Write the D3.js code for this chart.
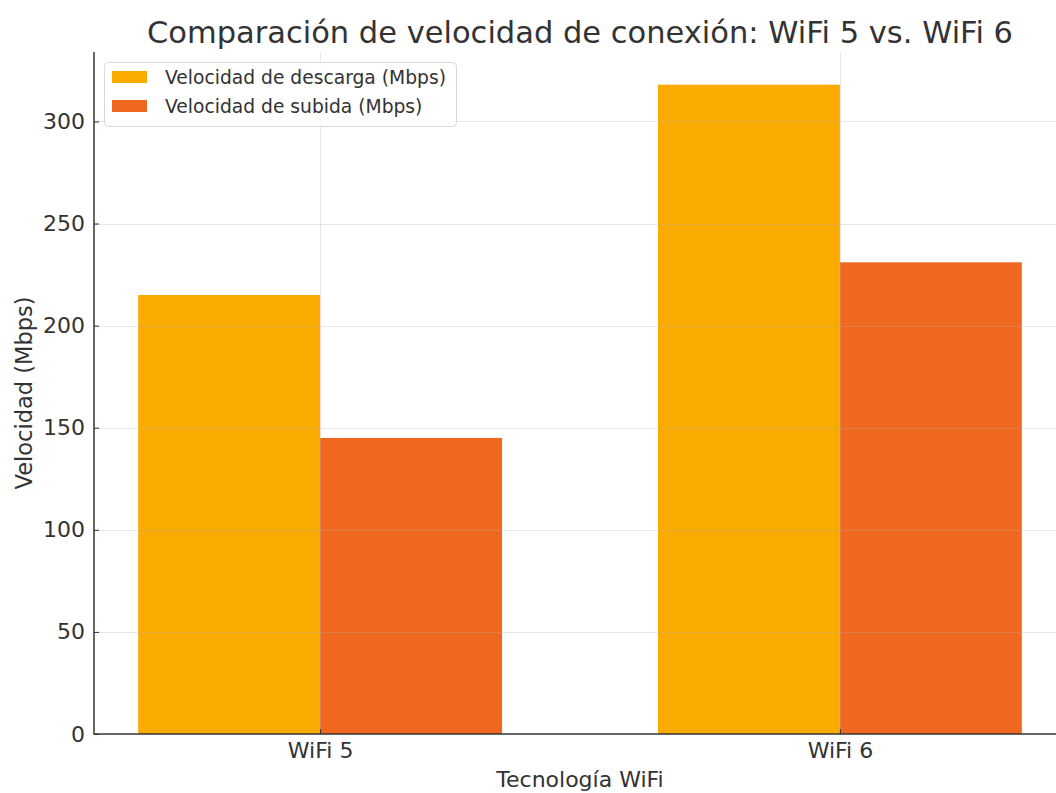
<!DOCTYPE html>
<html>
<head>
<meta charset="utf-8">
<script src="https://cdn.jsdelivr.net/npm/d3@7"></script>
<style>
  html, body { margin: 0; padding: 0; background: #fff; }
  svg { display: block; font-family: "DejaVu Sans", sans-serif; }
</style>
</head>
<body>
<svg id="chart" width="1056" height="793"></svg>
<script>
const categories = ["WiFi 5", "WiFi 6"];
const seriesNames = ["Velocidad de descarga (Mbps)", "Velocidad de subida (Mbps)"];
const downloadValues = [215, 318];
const uploadValues = [145, 231];
const yTicks = [0, 50, 100, 150, 200, 250, 300];
const colors = ["#FBAB00", "#F0671F"];

(function () {
const svg = d3.select("#chart");
const mLeft = 94, mRight = 1066, mTop = 52, mBottom = 734;
const barW = 0.35;

const x = d3.scaleLinear().domain([-0.435, 1.435]).range([mLeft, mRight]);
const y = d3.scaleLinear().domain([0, 334]).range([mBottom, mTop]);

const series = [downloadValues, uploadValues];

// bars
series.forEach((vals, si) => {
  svg.append("g").selectAll("rect")
    .data(vals)
    .join("rect")
    .attr("x", (d, i) => x(i + (si === 0 ? -barW : 0)))
    .attr("width", (d, i) => x(i + barW) - x(i))
    .attr("y", d => y(d))
    .attr("height", d => y(0) - y(d))
    .attr("fill", colors[si]);
});

// grid (drawn over bars, faint)
const grid = svg.append("g").attr("stroke", "#b0b0b0").attr("stroke-opacity", 0.3).attr("stroke-width", 1);
grid.selectAll("line.h").data(yTicks.slice(1)).join("line")
  .attr("x1", mLeft).attr("x2", mRight)
  .attr("y1", d => Math.round(y(d)) + 0.5).attr("y2", d => Math.round(y(d)) + 0.5);
grid.selectAll("line.v").data(categories).join("line")
  .attr("y1", mTop).attr("y2", mBottom)
  .attr("x1", (d, i) => Math.round(x(i)) + 0.5).attr("x2", (d, i) => Math.round(x(i)) + 0.5);

// axes
const yAxis = d3.axisLeft(y).tickValues(yTicks).tickSize(-5).tickPadding(9);
const gy = svg.append("g").attr("transform", `translate(${mLeft},0)`).call(yAxis);
gy.select(".domain").remove();
gy.selectAll("text").attr("font-size", 22).attr("fill", "#333").attr("font-family", "DejaVu Sans");
gy.selectAll("line").attr("stroke", "#333");

const xAxis = d3.axisBottom(x).tickValues([0, 1]).tickFormat((d) => categories[d]).tickSize(-5).tickPadding(8);
const gx = svg.append("g").attr("transform", `translate(0,${mBottom})`).call(xAxis);
gx.select(".domain").remove();
gx.selectAll("text").attr("font-size", 22).attr("fill", "#333").attr("font-family", "DejaVu Sans");
gx.selectAll("line").attr("stroke", "#333");

// spines
svg.append("line").attr("x1", mLeft).attr("x2", mLeft).attr("y1", mTop).attr("y2", mBottom + 0.75)
  .attr("stroke", "#333").attr("stroke-width", 1.5);
svg.append("line").attr("x1", mLeft).attr("x2", mRight).attr("y1", mBottom).attr("y2", mBottom)
  .attr("stroke", "#333").attr("stroke-width", 1.5);

// title and labels
svg.append("text").attr("x", (mLeft + mRight) / 2).attr("y", 43).attr("text-anchor", "middle")
  .attr("font-size", 30.5).attr("fill", "#333").text("Comparación de velocidad de conexión: WiFi 5 vs. WiFi 6");
svg.append("text").attr("x", (mLeft + mRight) / 2).attr("y", 787).attr("text-anchor", "middle")
  .attr("font-size", 22).attr("fill", "#333").text("Tecnología WiFi");
svg.append("text").attr("transform", `translate(32,${(mTop + mBottom) / 2}) rotate(-90)`).attr("text-anchor", "middle")
  .attr("font-size", 22.5).attr("fill", "#333").text("Velocidad (Mbps)");

// legend
const lg = svg.append("g");
lg.append("rect").attr("x", 104.5).attr("y", 62.5).attr("width", 352).attr("height", 64).attr("rx", 4)
  .attr("fill", "#fff").attr("fill-opacity", 0.85).attr("stroke", "#d8d8d8");
seriesNames.forEach((name, i) => {
  lg.append("rect").attr("x", 112).attr("y", 71 + i * 29).attr("width", 35).attr("height", 12).attr("fill", colors[i]);
  lg.append("text").attr("x", 165).attr("y", 84 + i * 29).attr("font-size", 18.7).attr("fill", "#333").text(name);
});
})();
</script>
</body>
</html>
